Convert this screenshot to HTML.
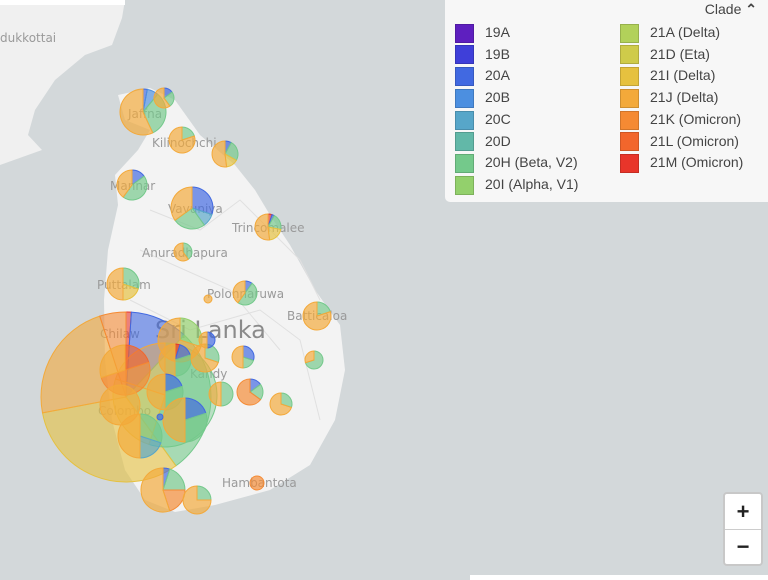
<!DOCTYPE html>
<html><head><meta charset="utf-8"><style>
body{margin:0;width:768px;height:580px;overflow:hidden;background:#d3d8da;font-family:"Liberation Sans",sans-serif}
svg{position:absolute;left:0;top:0}
.lab{fill:#9a9a9a;font-size:12px;font-family:"DejaVu Sans",sans-serif}
#leg{position:absolute;left:445px;top:0;width:330px;height:202px;background:rgba(248,248,248,0.97);border-radius:0 0 0 5px;font-size:14px;color:#444}
.it{position:absolute;height:19px;line-height:19px}
.sw{display:inline-block;width:17px;height:17px;vertical-align:middle;margin-right:11px;border:1px solid rgba(0,0,0,0.15)}
#zm{position:absolute;left:723px;top:492px;width:36px;height:70px;background:#fff;border:2px solid #c8c8c8;border-radius:4px;font-size:22px;font-weight:bold;text-align:center;color:#222}
</style></head><body>
<svg width="768" height="580" id="s">
<path d="M0,0 L125,0 L122,18 L112,45 L85,55 L55,80 L35,110 L28,135 L42,150 L0,165 Z" fill="#f0f0f0"/>
<rect x="0" y="0" width="125" height="5" fill="#fff"/>
<path d="M118,95 L150,88 L175,100 L200,135 L235,165 L255,190 L270,215 L290,245 L315,290 L340,325 L345,370 L335,420 L310,465 L270,490 L215,505 L175,512 L145,500 L125,470 L112,420 L105,360 L104,300 L108,250 L118,205 L115,175 L138,150 L150,130 L125,120 Z" fill="#f3f3f3"/>
<g fill="none" stroke="#e0e0e0" stroke-width="1"><path d="M150,210 L200,230 L240,200 L300,260 L320,300"/><path d="M130,300 L190,330 L260,310 L300,340 L320,420"/><path d="M140,250 L230,290 L280,350"/></g>
<text class="lab" x="0" y="42">dukkottai</text>
<text class="lab" x="128" y="118">Jaffna</text>
<text class="lab" x="152" y="147">Kilinochchi</text>
<text class="lab" x="110" y="190">Mannar</text>
<text class="lab" x="168" y="213">Vavuniya</text>
<text class="lab" x="232" y="232">Trincomalee</text>
<text class="lab" x="142" y="257">Anuradhapura</text>
<text class="lab" x="97" y="289">Puttalam</text>
<text class="lab" x="207" y="298">Polonnaruwa</text>
<text class="lab" x="287" y="320">Batticaloa</text>
<text class="lab" x="190" y="378">Kandy</text>
<text class="lab" x="100" y="338">Chilaw</text>
<text class="lab" x="98" y="415">Colombo</text>
<text class="lab" x="222" y="487">Hambantota</text>
<text x="155" y="338" fill="#8a8a8a" font-size="24" font-family="DejaVu Sans,sans-serif">Sri Lanka</text>
<g id="p"></g>
<rect x="470" y="575" width="298" height="5" fill="#fff"/>
</svg>
<div id="leg">
<div style="position:absolute;right:18px;top:1px">Clade <b>&#8963;</b></div>
<div id="items"></div>
</div>
<div id="zm"><div style="height:35px;line-height:35px;border-bottom:1px solid #ccc">+</div><div style="line-height:33px">&minus;</div></div>
<script>
var C={A:"#5e1fbf",B:"#3f3fd9",a:"#4169e1",b:"#4c8fe0",c:"#57a6c9",d:"#62b8a8",h:"#74c98b",i:"#93d06c",x:"#b2d15a",e:"#cfcb4a",I:"#e6c13f",J:"#f3a93a",K:"#f58a33",L:"#f2662c",M:"#e8352a"};
var names=[["A","19A"],["B","19B"],["a","20A"],["b","20B"],["c","20C"],["d","20D"],["h","20H (Beta, V2)"],["i","20I (Alpha, V1)"],["x","21A (Delta)"],["e","21D (Eta)"],["I","21I (Delta)"],["J","21J (Delta)"],["K","21K (Omicron)"],["L","21L (Omicron)"],["M","21M (Omicron)"]];
var h="";names.forEach(function(n,k){var col=k<8?0:1,row=k<8?k:k-8;h+='<div class="it" style="left:'+(10+col*165)+'px;top:'+(23+row*21.7)+'px"><span class="sw" style="background:'+C[n[0]]+'"></span>'+n[1]+'</div>';});
document.getElementById("items").innerHTML=h;
var P=[
[126,397,85,[["M",.01],["a",.11],["h",.28],["I",.32],["J",.23],["K",.05]],0.6],
[165,395,52,[["h",.55],["I",.25],["J",.2]],0.45],
[125,370,25,[["L",.2],["K",.5],["J",.3]]],
[180,340,22,[["i",.3],["J",.7]]],
[175,360,16,[["M",.05],["a",.15],["h",.3],["J",.5]]],
[205,358,14,[["h",.3],["J",.7]]],
[207,340,8,[["a",.5],["J",.5]]],
[243,357,11,[["a",.3],["h",.2],["J",.5]]],
[165,392,18,[["a",.2],["h",.3],["J",.5]]],
[185,420,22,[["a",.2],["h",.3],["J",.5]]],
[140,436,22,[["h",.3],["c",.2],["J",.5]]],
[120,405,20,[["J",1]]],
[221,394,12,[["h",.5],["J",.5]]],
[250,392,13,[["a",.15],["h",.2],["K",.65]]],
[281,404,11,[["h",.3],["J",.7]]],
[160,417,3,[["a",1]]],
[163,490,22,[["a",.05],["h",.2],["K",.2],["J",.55]]],
[197,500,14,[["h",.25],["J",.75]]],
[257,483,7,[["K",1]]],
[143,112,23,[["a",.03],["b",.08],["h",.32],["J",.57]]],
[164,98,10,[["a",.15],["h",.25],["J",.6]]],
[182,140,13,[["h",.2],["J",.8]]],
[225,154,13,[["a",.08],["h",.25],["I",.15],["J",.52]]],
[132,185,15,[["a",.15],["h",.45],["J",.4]]],
[192,208,21,[["a",.3],["c",.1],["h",.25],["J",.35]]],
[268,227,13,[["M",.05],["a",.03],["h",.2],["I",.2],["J",.52]]],
[183,252,9,[["h",.4],["J",.6]]],
[123,284,16,[["h",.3],["I",.2],["J",.5]]],
[245,293,12,[["a",.1],["h",.5],["J",.4]]],
[208,299,4,[["J",1]]],
[317,316,14,[["h",.2],["J",.8]]],
[314,360,9,[["h",.7],["J",.3]]]];
var s="";
P.forEach(function(p){var cx=p[0],cy=p[1],r=p[2],a=0,o=p[4]||0.68;
p[3].forEach(function(q){var f=q[1],c=C[q[0]];
if(f>=1){s+='<circle cx="'+cx+'" cy="'+cy+'" r="'+r+'" fill="'+c+'" fill-opacity="'+o+'" stroke="'+c+'"/>';return;}
var a2=a+f*2*Math.PI;var x1=cx+r*Math.sin(a),y1=cy-r*Math.cos(a),x2=cx+r*Math.sin(a2),y2=cy-r*Math.cos(a2);
s+='<path d="M'+cx+','+cy+'L'+x1+','+y1+'A'+r+','+r+' 0 '+(f>.5?1:0)+' 1 '+x2+','+y2+'Z" fill="'+c+'" fill-opacity="'+o+'" stroke="'+c+'"/>';a=a2;});});
document.getElementById("p").innerHTML=s;
</script>
</body></html>
